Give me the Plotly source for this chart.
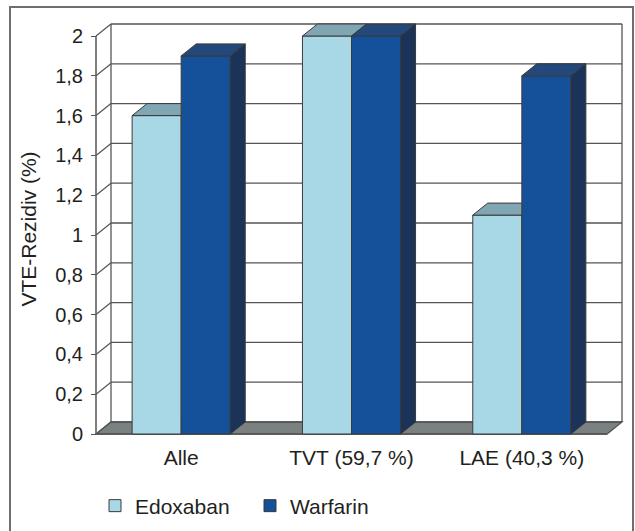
import plotly.graph_objects as go

# ---- data -------------------------------------------------------------
categories = ["Alle", "TVT (59,7 %)", "LAE (40,3 %)"]
edoxaban = [1.6, 2.0, 1.1]
warfarin = [1.9, 2.0, 1.8]
series_names = ["Edoxaban", "Warfarin"]
y_ticks = [0, 0.2, 0.4, 0.6, 0.8, 1.0, 1.2, 1.4, 1.6, 1.8, 2.0]
y_title = "VTE-Rezidiv (%)"

# ---- styling ----------------------------------------------------------
FONT = "Liberation Sans, Arial, Helvetica, sans-serif"
TEXT = "#231f20"
EDO_FRONT, EDO_TOP, EDO_SIDE = "#a8d8e6", "#7fa6b2", "#5f8c99"
WAR_FRONT, WAR_TOP, WAR_SIDE = "#15519a", "#23487c", "#1b3358"
EDGE = "#3a3a3a"
GRID = "#555555"
FLOOR = "#7b8181"

W, H = 635, 531
L0, R1, B0, T1 = 96, 622, 434, 24      # front-left / back-right corners (px)
DEPTH_X, DEPTH_Y = 15, 12              # oblique depth of the box (px)
PAD = 4

n = len(categories)
y_max = max(y_ticks)
px_cat = (R1 - L0 - DEPTH_X) / n
px_unit = (B0 - T1 - DEPTH_Y) / y_max
DX = DEPTH_X / px_cat
DY = DEPTH_Y / px_unit

plot_w = (R1 + PAD) - (L0 - PAD)
plot_h = (B0 + PAD) - (T1 - PAD)
x_range = [-0.5 - PAD / px_cat, n - 0.5 + DX + PAD / px_cat]
y_range = [-PAD / px_unit, y_max + DY + PAD / px_unit]

BAR_W = 0.288
xs = list(range(n))


def poly(pts, color):
    return go.Scatter(
        x=[p[0] for p in pts] + [pts[0][0]],
        y=[p[1] for p in pts] + [pts[0][1]],
        mode="lines", fill="toself", fillcolor=color,
        line=dict(color=EDGE, width=1), hoverinfo="skip", showlegend=False,
    )


fig = go.Figure()

# front faces of the columns
fig.add_trace(go.Bar(x=xs, y=edoxaban, name=series_names[0], width=BAR_W, offset=-BAR_W,
                     marker=dict(color=EDO_FRONT, line=dict(color=EDGE, width=1))))
fig.add_trace(go.Bar(x=xs, y=warfarin, name=series_names[1], width=BAR_W, offset=0,
                     marker=dict(color=WAR_FRONT, line=dict(color=EDGE, width=1))))

# top and side faces, back to front
for c, e, w in zip(xs, edoxaban, warfarin):
    el, er = c - BAR_W, c
    wl, wr = c, c + BAR_W
    if e > w:
        fig.add_trace(poly([(er, w), (er, e), (er + DX, e + DY), (er + DX, w + DY)], EDO_SIDE))
    if w >= e + DY:
        # right part of the Edoxaban top hides behind the taller Warfarin column
        fig.add_trace(poly([(el, e), (er, e), (er, e + DY), (el + DX, e + DY)], EDO_TOP))
    else:
        fig.add_trace(poly([(el, e), (er, e), (er + DX, e + DY), (el + DX, e + DY)], EDO_TOP))
    fig.add_trace(poly([(wl, w), (wr, w), (wr + DX, w + DY), (wl + DX, w + DY)], WAR_TOP))
    fig.add_trace(poly([(wr, 0), (wr, w), (wr + DX, w + DY), (wr + DX, DY)], WAR_SIDE))

# box: floor, back wall, side-wall grid, front axis lines
shapes = []
x0, x1 = -0.5, n - 0.5
shapes.append(dict(type="path", xref="x", yref="y", layer="below",
                   path=f"M{x0},0 L{x1},0 L{x1 + DX},{DY} L{x0 + DX},{DY} Z",
                   fillcolor=FLOOR, line=dict(color=GRID, width=1.3)))
for t in y_ticks:
    shapes.append(dict(type="line", xref="x", yref="y", layer="below",
                       x0=x0 + DX, x1=x1 + DX, y0=t + DY, y1=t + DY,
                       line=dict(color=GRID, width=1.3)))
    shapes.append(dict(type="line", xref="x", yref="y", layer="below",
                       x0=x0, x1=x0 + DX, y0=t, y1=t + DY,
                       line=dict(color=GRID, width=1.3)))
for xe in (x0 + DX, x1 + DX):
    shapes.append(dict(type="line", xref="x", yref="y", layer="below",
                       x0=xe, x1=xe, y0=DY, y1=y_max + DY,
                       line=dict(color=GRID, width=1.3)))
shapes.append(dict(type="line", xref="x", yref="y", layer="below",
                   x0=x0, x1=x0, y0=0, y1=y_max, line=dict(color=GRID, width=1.5)))
shapes.append(dict(type="line", xref="x", yref="y", layer="below",
                   x0=x0, x1=x1, y0=0, y1=0, line=dict(color=GRID, width=1.5)))

# outer frame
ml, mt = L0 - PAD, T1 - PAD
mb = H - (B0 + PAD)


def px_to_paper_x(px):
    return (px - ml) / plot_w


def px_to_paper_y(py):
    return (B0 + PAD - py) / plot_h


shapes.append(dict(type="rect", xref="paper", yref="paper", layer="above",
                   x0=px_to_paper_x(10), x1=px_to_paper_x(633),
                   y0=px_to_paper_y(545), y1=px_to_paper_y(7),
                   line=dict(color="#6e6e6e", width=2), fillcolor="rgba(0,0,0,0)"))

fig.update_layout(
    width=W, height=H,
    margin=dict(l=ml, r=W - (R1 + PAD), t=mt, b=mb, pad=0, autoexpand=False),
    paper_bgcolor="white", plot_bgcolor="white",
    separators=", ",
    barmode="overlay",
    font=dict(family=FONT, size=20, color=TEXT),
    shapes=shapes,
    showlegend=True,
    legend=dict(orientation="h", x=px_to_paper_x(95), y=px_to_paper_y(506),
                xanchor="left", yanchor="middle", entrywidth=110, entrywidthmode="pixels",
                font=dict(size=21, color=TEXT), traceorder="normal", itemclick=False),
    xaxis=dict(range=x_range, tickmode="array", tickvals=xs, ticktext=categories,
               ticks="", showgrid=False, zeroline=False, showline=False,
               anchor="free", position=PAD / plot_h, ticklabelstandoff=9,
               tickfont=dict(size=21), fixedrange=True),
    xaxis2=dict(range=x_range, overlaying="x", anchor="free", position=PAD / plot_h,
                side="bottom", tickmode="array", tickvals=[v - 0.5 for v in range(n + 1)],
                showticklabels=False, ticks="outside", ticklen=7, tickwidth=1.3,
                tickcolor=GRID, showgrid=False, zeroline=False, showline=False),
    yaxis=dict(range=y_range, tickmode="array", tickvals=y_ticks, ticks="outside",
               ticklen=5, tickwidth=1.3, tickcolor=GRID, showgrid=False, zeroline=False,
               showline=False, anchor="free", position=PAD / plot_w,
               tickfont=dict(size=20), ticklabelstandoff=4,
               title=dict(text=y_title, font=dict(size=21), standoff=11), fixedrange=True),
)

fig.write_html("out.html")
